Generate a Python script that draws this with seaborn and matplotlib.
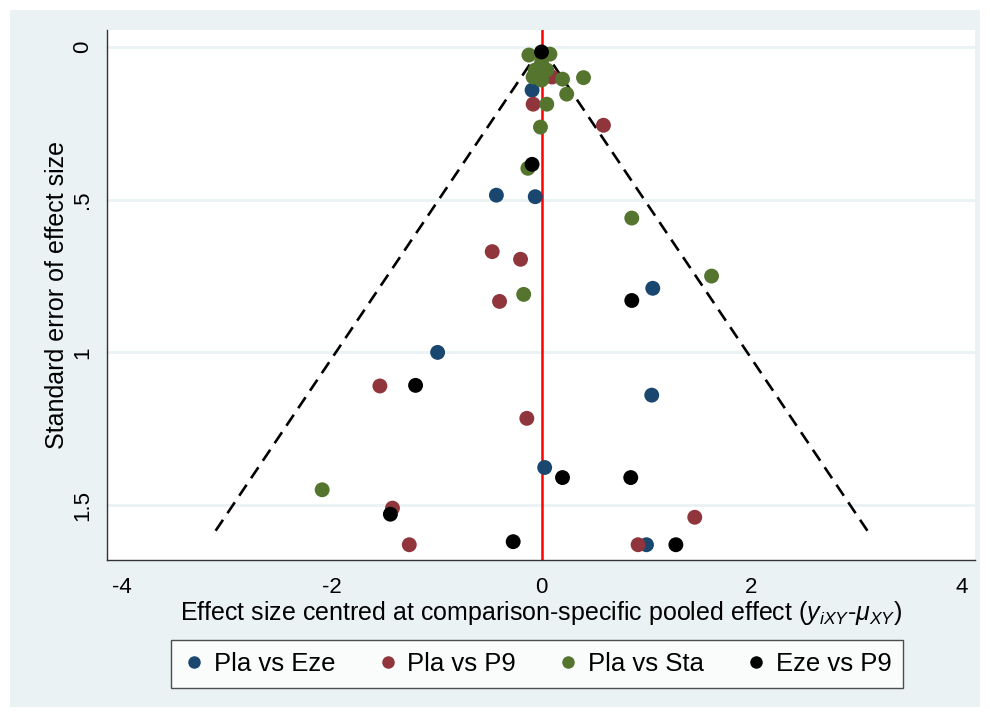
import numpy as np
import pandas as pd
import matplotlib
matplotlib.use("Agg")
import matplotlib.pyplot as plt
from matplotlib.lines import Line2D
from matplotlib.patches import Rectangle
import seaborn as sns

# Comparison-adjusted funnel plot data: centred effect size and its standard error
comparisons = ["Pla vs Eze", "Pla vs P9", "Pla vs Sta", "Eze vs P9"]
colors = ["#1a476f", "#90353b", "#55752f", "#000000"]

eze_x = [-0.09, -0.43, -0.06, 1.06, -0.99, 1.05, 0.03, 1.00]
eze_se = [0.141, 0.485, 0.490, 0.790, 1.000, 1.140, 1.377, 1.630]

p9_x = [0.00, 0.10, -0.08, 0.59, -0.47, -0.20, -0.40, -1.54, -0.14, -1.42, 1.46, -1.26, 0.92]
p9_se = [0.020, 0.098, 0.187, 0.256, 0.670, 0.695, 0.833, 1.110, 1.216, 1.510, 1.540, 1.630, 1.630]

sta_x = [-0.12, 0.08, 0.00, -0.06, 0.05, -0.08, 0.00, 0.20, 0.40, 0.24, 0.05, -0.01,
         -0.13, 0.86, 1.62, -0.17, -2.09]
sta_se = [0.026, 0.023, 0.052, 0.075, 0.075, 0.098, 0.108, 0.105, 0.100, 0.154, 0.187, 0.262,
          0.397, 0.560, 0.750, 0.810, 1.450]

ezep9_x = [0.00, -0.09, 0.86, -1.20, 0.20, 0.85, -1.44, -0.27, 1.28]
ezep9_se = [0.016, 0.384, 0.830, 1.108, 1.410, 1.410, 1.530, 1.620, 1.630]

x_ticks = [-4, -2, 0, 2, 4]
y_ticks = [0, 0.5, 1, 1.5]
y_ticklabels = ["0", ".5", "1", "1.5"]
se_max = 1.6

frames = []
for name, xs, ses in zip(comparisons,
                         [eze_x, p9_x, sta_x, ezep9_x],
                         [eze_se, p9_se, sta_se, ezep9_se]):
    frames.append(pd.DataFrame({"effect": xs, "se": ses, "comparison": name}))
df = pd.concat(frames, ignore_index=True)

sns.set_style("white")
plt.rcParams["font.family"] = ["Liberation Sans", "DejaVu Sans"]
plt.rcParams["mathtext.fontset"] = "custom"
plt.rcParams["mathtext.rm"] = "Liberation Sans"
plt.rcParams["mathtext.it"] = "Liberation Sans:italic"
plt.rcParams["text.color"] = "black"
plt.rcParams["axes.labelcolor"] = "black"
plt.rcParams["xtick.color"] = "black"
plt.rcParams["ytick.color"] = "black"

bg = "#eaf2f3"
fig = plt.figure(figsize=(9.9, 7.17), dpi=100)
fig.patch.set_facecolor("white")
fig.patches.append(Rectangle((10 / 990, 10 / 717), 970 / 990, 697 / 717,
                             transform=fig.transFigure, facecolor=bg,
                             edgecolor="none", zorder=-10))

ax = fig.add_axes([107 / 990, 1 - 560 / 717, 868 / 990, 530 / 717])
ax.set_facecolor("white")

# horizontal grid lines
for yt in y_ticks:
    ax.axhline(yt, color=bg, lw=2, zorder=0)

# pseudo 95% confidence funnel
se_line = np.array([0, se_max])
ax.plot(1.96 * se_line, se_line, color="black", ls=(0, (5, 3)), lw=1.9, zorder=1)
ax.plot(-1.96 * se_line, se_line, color="black", ls=(0, (5, 3)), lw=1.9, zorder=1)

# null line
ax.axvline(0, color="#ff0000", lw=1.8, zorder=1)

sns.scatterplot(data=df, x="effect", y="se", hue="comparison",
                hue_order=comparisons, palette=colors, s=115,
                edgecolor="none", linewidth=0, legend=False, ax=ax, zorder=3)

ax.set_xlim(-4.14, 4.13)
ax.set_ylim(1.68, -0.056)
ax.set_xticks(x_ticks)
ax.set_xticklabels([str(t) for t in x_ticks], fontsize=16)
ax.set_yticks(y_ticks)
ax.set_yticklabels(y_ticklabels, fontsize=16, rotation=90, va="center")
ax.tick_params(axis="x", direction="out", length=7, width=1, color="#333333", pad=5)
ax.tick_params(axis="y", direction="out", length=7, width=1, color="#333333", pad=3)

for side in ["top", "right"]:
    ax.spines[side].set_visible(False)
for side in ["left", "bottom"]:
    ax.spines[side].set_color("#333333")
    ax.spines[side].set_linewidth(1)

ax.set_xlabel(r"Effect size centred at comparison-specific pooled effect ($y_{iXY}$-$\mu_{XY}$)",
              fontsize=18, labelpad=1)
ax.set_ylabel("Standard error of effect size", fontsize=18, labelpad=2)

handles = [Line2D([0], [0], marker="o", color="none", markerfacecolor=c,
                  markeredgecolor="none", markersize=9) for c in colors]
leg = fig.legend(handles, comparisons, loc="center", ncol=4,
                 bbox_to_anchor=(537 / 990, 1 - 664 / 717), fontsize=18.5,
                 frameon=True, fancybox=False, edgecolor="#222222",
                 handletextpad=0.3, columnspacing=1.6, borderpad=0.45,
                 handlelength=0.9)
leg.get_frame().set_linewidth(1)

fig.savefig("out.png", dpi=100, facecolor=fig.get_facecolor())
